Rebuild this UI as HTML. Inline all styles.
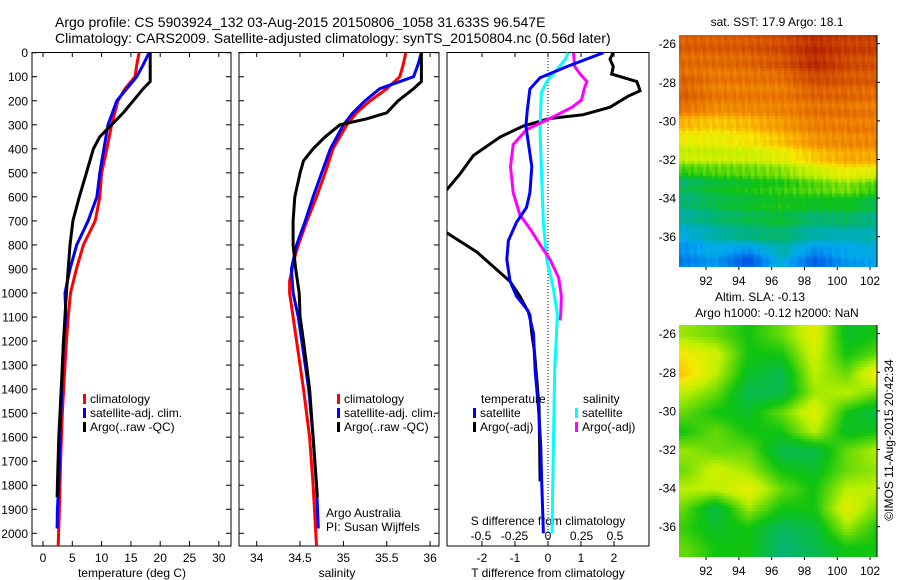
<!DOCTYPE html>
<html><head><meta charset="utf-8"><style>
html,body{margin:0;padding:0;background:#fff;}
#wrap{position:relative;width:900px;height:580px;overflow:hidden;font-family:"Liberation Sans",sans-serif;}
svg text{font-family:"Liberation Sans",sans-serif;fill:#000;}
canvas{position:absolute;}
</style></head><body>
<div id="wrap">
<canvas id="sst" style="left:679px;top:35px" width="198" height="232"></canvas>
<canvas id="sla" style="left:679px;top:325px" width="198" height="232"></canvas>
<svg id="svg" width="900" height="580" style="position:absolute;left:0;top:0"></svg>
</div>
<script>
// ---- data ----
const tempDepthClim=[0,50,100,150,200,300,400,500,600,700,800,900,1000,1100,1200,1300,1500,1700,1900,2050];
const tempClim=[16.4,16.0,15.7,14.0,12.8,11.7,10.9,10.0,9.7,8.9,6.9,5.7,4.7,4.3,4.0,3.75,3.3,3.0,2.8,2.6];
const tempDepthSat=[0,50,100,150,200,300,400,500,600,700,800,900,1000,1100,1200,1400,1600,1800,1900,1980];
const tempSat=[18.1,17.1,16.0,14.3,12.6,11.1,10.4,9.7,9.2,7.7,5.75,4.6,3.75,3.9,3.5,3.2,2.9,2.7,2.45,2.4];
const tempDepthArgo=[0,120,150,200,250,300,350,400,500,600,700,800,900,1000,1200,1400,1600,1800,1850];
const tempArgo=[18.3,18.3,17.1,15.4,13.7,11.7,9.7,8.6,7.4,6.2,5.1,4.6,4.3,4.0,3.5,3.1,2.7,2.45,2.4];
const salDepthClim=[0,50,100,150,200,250,300,400,500,600,700,800,850,950,1000,1100,1200,1400,1600,1800,2050];
const salClim=[35.72,35.69,35.65,35.5,35.31,35.15,35.04,34.88,34.79,34.69,34.58,34.48,34.44,34.38,34.38,34.42,34.46,34.54,34.61,34.65,34.69];
const salDepthSat=[0,50,100,150,200,250,300,400,500,600,700,800,900,1000,1100,1200,1400,1600,1800,1980];
const salSat=[35.9,35.86,35.81,35.42,35.25,35.11,35.0,34.85,34.75,34.65,34.56,34.46,34.4,34.42,34.48,34.52,34.6,34.65,34.69,34.71];
const salDepthArgo=[0,120,150,200,250,275,300,350,400,450,500,600,700,800,900,1000,1100,1200,1400,1600,1800,1850];
const salArgo=[35.9,35.9,35.81,35.63,35.5,35.27,34.96,34.79,34.65,34.54,34.5,34.44,34.42,34.42,34.45,34.49,34.5,34.54,34.61,34.65,34.69,34.7];
const tdDepthSat=[0,58,104,151,243,305,474,582,644,705,782,860,952,1014,1075,1168,1322,1476,1630,1784,2000];
const tdSat=[1.68,0.57,-0.24,-0.55,-0.63,-0.67,-0.49,-0.55,-0.65,-0.95,-1.2,-1.25,-1.15,-0.95,-0.6,-0.44,-0.39,-0.29,-0.22,-0.19,-0.14];
const tdDepthArgo=[0,27,58,89,120,158,181,227,258,274,305,351,428,505,567,640,720,751,829,952,1014,1091,1168,1245,1476,1784];
const tdArgo=[1.98,1.88,1.98,1.93,2.69,2.79,2.43,1.88,1.07,0.06,-0.75,-1.45,-2.26,-2.67,-3.05,-3.6,-3.6,-3.05,-2.16,-1.15,-0.85,-0.55,-0.49,-0.41,-0.27,-0.24];
const sdDepthSat=[0,27,71,120,166,320,474,705,860,983,1091,1322,1630,2000];
const sdSat=[0.15,0.13,0.065,-0.01,-0.05,-0.06,-0.05,-0.035,-0.01,0.04,0.07,0.05,0.04,0.03];
const sdDepthArgo=[0,58,89,120,151,197,227,274,320,382,474,582,675,736,798,860,937,1014,1091,1114];
const sdArgo=[0.19,0.2,0.24,0.29,0.27,0.25,0.18,0.015,-0.16,-0.26,-0.28,-0.26,-0.21,-0.13,-0.06,0.015,0.08,0.1,0.095,0.09];
const depthTicks=[0,100,200,300,400,500,600,700,800,900,1000,1100,1200,1300,1400,1500,1600,1700,1800,1900,2000];
const tempTicks=[0,5,10,15,20,25,30];
const salTicks=[34,34.5,35,35.5,36];
const tdTicks=[-2,-1,0,1,2];
const sdTicks=[-0.5,-0.25,0,0.25,0.5];
const sdTickLabels=["-0.5","-0.25","0","0.25","0.5"];
const mapLonTicks=[92,94,96,98,100,102];
const mapLatTicks=[-26,-28,-30,-32,-34,-36];
const sstGrid=[
[0.85,0.85,0.86,0.88,0.93,0.9,0.9],
[0.82,0.82,0.83,0.86,0.93,0.88,0.86],
[0.84,0.8,0.8,0.8,0.86,0.85,0.84],
[0.84,0.8,0.8,0.8,0.82,0.82,0.8],
[0.72,0.7,0.72,0.76,0.8,0.8,0.8],
[0.64,0.64,0.66,0.7,0.76,0.78,0.78],
[0.6,0.6,0.6,0.62,0.68,0.72,0.72],
[0.44,0.48,0.5,0.52,0.56,0.6,0.56],
[0.42,0.46,0.48,0.5,0.5,0.5,0.46],
[0.38,0.42,0.45,0.47,0.42,0.44,0.4],
[0.3,0.36,0.4,0.42,0.36,0.34,0.36],
[0.24,0.28,0.18,0.34,0.2,0.28,0.3]];
const slaGrid=[
[0.58,0.55,0.5,0.55,0.64,0.48,0.5],
[0.66,0.62,0.5,0.5,0.62,0.5,0.55],
[0.7,0.6,0.48,0.45,0.6,0.55,0.68],
[0.6,0.55,0.45,0.45,0.58,0.6,0.55],
[0.55,0.5,0.48,0.55,0.64,0.5,0.45],
[0.5,0.55,0.5,0.5,0.6,0.48,0.5],
[0.58,0.55,0.55,0.45,0.45,0.55,0.6],
[0.55,0.62,0.58,0.5,0.48,0.55,0.58],
[0.6,0.6,0.65,0.55,0.5,0.6,0.6],
[0.55,0.45,0.58,0.5,0.5,0.64,0.55],
[0.52,0.48,0.5,0.44,0.46,0.58,0.5],
[0.55,0.5,0.5,0.42,0.45,0.5,0.5]];

const yD=d=>52.7+d*0.2403;
const xT=t=>43+5.86*t;
const xS=s=>256.7+86.7*(s-34);
const xTD=t=>548+33*t;
const xSD=s=>548+134*s;
const NS="http://www.w3.org/2000/svg";
const svg=document.getElementById('svg');
function mk(tag,attrs,parent){const e=document.createElementNS(NS,tag);for(const k in attrs)e.setAttribute(k,attrs[k]);(parent||svg).appendChild(e);return e;}
function txt(x,y,s,anchor,size,parent){const e=mk('text',{x:x,y:y,'font-size':size||12,'text-anchor':anchor||'start'},parent);e.textContent=s;return e;}

let t1=txt(55,27,'Argo profile: CS 5903924_132 03-Aug-2015 20150806_1058 31.633S 96.547E','start',14);

let t2=txt(55,43,'Climatology: CARS2009. Satellite-adjusted climatology: synTS_20150804.nc (0.56d later)','start',14);


const panels=[{l:32,r:231,name:'temperature-panel'},{l:239,r:439,name:'salinity-panel'},{l:447,r:649,name:'difference-panel'}];
panels.forEach((p,i)=>{
  const g=mk('g',{});
  
  
  const cp=mk('clipPath',{id:'cp'+i},g);
  mk('rect',{x:p.l,y:52,width:p.r-p.l,height:494},cp);
  mk('rect',{x:p.l,y:52.5,width:p.r-p.l,height:493.5,fill:'none',stroke:'#000','stroke-width':1},g);
  p.g=g;
  if(i<2){depthTicks.forEach(d=>{mk('line',{x1:p.l,x2:p.l+5,y1:yD(d),y2:yD(d),stroke:'#000'},g);mk('line',{x1:p.r-5,x2:p.r,y1:yD(d),y2:yD(d),stroke:'#000'},g);});}
});
const yl=mk('g',{});


depthTicks.forEach(d=>txt(28,yD(d)+4.5,String(d),'end',12,yl));
function xticks(p,vals,labels,fx,y){vals.forEach((v,k)=>{const x=fx(v);mk('line',{x1:x,x2:x,y1:546,y2:541,stroke:'#000'},p.g);mk('line',{x1:x,x2:x,y1:52,y2:57,stroke:'#000'},p.g);txt(x,y,labels[k],'middle',12,p.g);});}
xticks(panels[0],tempTicks,tempTicks.map(String),xT,562);
xticks(panels[1],salTicks,salTicks.map(String),xS,562);
xticks(panels[2],tdTicks,tdTicks.map(String),xTD,562);
sdTicks.forEach((v,k)=>txt(xSD(v),540,sdTickLabels[k],'middle',12,panels[2].g));
txt(548,525,'S difference from climatology','middle',12,panels[2].g);
txt(132,577,'temperature (deg C)','middle',12,panels[0].g);
txt(337,577,'salinity','middle',12,panels[1].g);
txt(548,577,'T difference from climatology','middle',12,panels[2].g);
mk('line',{x1:548,x2:548,y1:52,y2:546,stroke:'#000','stroke-dasharray':'1,2'},panels[2].g);

function line(p,i,depths,vals,fx,color,name){
  let d='';depths.forEach((z,k)=>{d+=(k?'L':'M')+fx(vals[k]).toFixed(1)+','+yD(z).toFixed(1);});
  const e=mk('path',{d:d,fill:'none',stroke:color,'stroke-width':3,'clip-path':'url(#cp'+i+')'},p.g);
  
  
}
line(panels[0],0,tempDepthClim,tempClim,xT,'#ff0000','temp-climatology-line');
line(panels[0],0,tempDepthSat,tempSat,xT,'#0000ff','temp-satellite-line');
line(panels[0],0,tempDepthArgo,tempArgo,xT,'#000000','temp-argo-line');
line(panels[1],1,salDepthClim,salClim,xS,'#ff0000','sal-climatology-line');
line(panels[1],1,salDepthSat,salSat,xS,'#0000ff','sal-satellite-line');
line(panels[1],1,salDepthArgo,salArgo,xS,'#000000','sal-argo-line');
line(panels[2],2,tdDepthArgo,tdArgo,xTD,'#000000','tdiff-argo-line');
line(panels[2],2,sdDepthSat,sdSat,xSD,'#00ffff','sdiff-satellite-line');
line(panels[2],2,sdDepthArgo,sdArgo,xSD,'#ff00ff','sdiff-argo-line');
line(panels[2],2,tdDepthSat,tdSat,xTD,'#0000ff','tdiff-satellite-line');

function legend(parent,x,y,items,name){
  const g=mk('g',{},parent);
  
  
  items.forEach((it,k)=>{const yy=y+k*14;if(it[1])mk('rect',{x:x,y:yy-9,width:3,height:10,fill:it[1]},g);txt(x+7,yy,it[0],'start',12,g);});
}
legend(panels[0].g,83,403,[['climatology','#ff0000'],['satellite-adj. clim.','#0000ff'],['Argo(..raw -QC)','#000000']],'temp-legend');
legend(panels[1].g,337,403,[['climatology','#ff0000'],['satellite-adj. clim.','#0000ff'],['Argo(..raw -QC)','#000000']],'sal-legend');
txt(326,517,'Argo Australia','start',12,panels[1].g);
txt(326,531,'PI: Susan Wijffels','start',12,panels[1].g);
txt(481,403,'temperature','start',12,panels[2].g);
txt(583,403,'salinity','start',12,panels[2].g);
legend(panels[2].g,473,417,[['satellite','#0000ff'],['Argo(-adj)','#000000']],'tdiff-legend');
legend(panels[2].g,575,417,[['satellite','#00ffff'],['Argo(-adj)','#ff00ff']],'sdiff-legend');

const mLon=lon=>679+(lon-90.35)*16.4;
const latY=(lat,top)=>top+(-25.55-lat)*19.3;
const stops=[[0,[0,0,140]],[0.15,[0,70,230]],[0.3,[0,170,240]],[0.4,[0,176,140]],[0.5,[16,196,16]],[0.6,[190,240,0]],[0.66,[245,235,0]],[0.73,[250,170,0]],[0.82,[230,110,0]],[0.92,[190,50,0]],[1,[160,0,0]]];
function cmap(v){v=Math.max(0,Math.min(1,v));for(let i=1;i<stops.length;i++){if(v<=stops[i][0]){const a=stops[i-1],b=stops[i],f=(v-a[0])/(b[0]-a[0]);return a[1].map((c,k)=>Math.round(c+(b[1][k]-c)*f));}}return stops[stops.length-1][1];}
function interp(grid,lon,lat){const cx=(lon-90.5)/2,cy=(-26-lat);const c0=Math.max(0,Math.min(5,Math.floor(cx))),r0=Math.max(0,Math.min(10,Math.floor(cy)));const fx=Math.max(0,Math.min(1,cx-c0)),fy=Math.max(0,Math.min(1,cy-r0));
 const a=grid[r0][c0],b=grid[r0][c0+1],c=grid[r0+1][c0],d=grid[r0+1][c0+1];return (a*(1-fx)+b*fx)*(1-fy)+(c*(1-fx)+d*fx)*fy;}
function drawMap(id,grid,cell,jag){const cv=document.getElementById(id),ctx=cv.getContext('2d');
 for(let py=0;py<232;py+=cell)for(let px=0;px<198;px+=cell){const lon=90.35+px/16.4,lat=-25.55-py/19.3;let v=interp(grid,lon,lat);
   if(jag)v+=0.03*Math.sin(px*1.7+py*0.9)*Math.cos(py*1.3-px*0.4);
   const c=cmap(v);ctx.fillStyle='rgb('+c.join(',')+')';ctx.fillRect(px,py,cell,cell);}}
drawMap('sst',sstGrid,3,true);
drawMap('sla',slaGrid,3,false);
[[35,'sst-map-axes'],[325,'sla-map-axes']].forEach(([top,name])=>{
  const g=mk('g',{});
  
  
  mk('line',{x1:877,x2:877,y1:top,y2:top+232,stroke:'#000'},g);
  mapLatTicks.forEach(l=>{const y=latY(l,top);mk('line',{x1:877,x2:880,y1:y,y2:y,stroke:'#000'},g);txt(676,y+4.5,String(l),'end',12,g);});
  mapLonTicks.forEach(l=>{const x=mLon(l);mk('line',{x1:x,x2:x,y1:top+232,y2:top+235,stroke:'#000'},g);txt(x,top+250,String(l),'middle',12,g);});
});
txt(777,26,'sat. SST: 17.9 Argo: 18.1','middle',12);
txt(760,301,'Altim. SLA: -0.13','middle',12);
txt(777,317,'Argo h1000: -0.12 h2000: NaN','middle',12);
const cr=txt(0,0,'\u00a9IMOS 11-Aug-2015 20:42:34','middle',12);
cr.setAttribute('transform','translate(893,440) rotate(-90)');


</script>
</body></html>
